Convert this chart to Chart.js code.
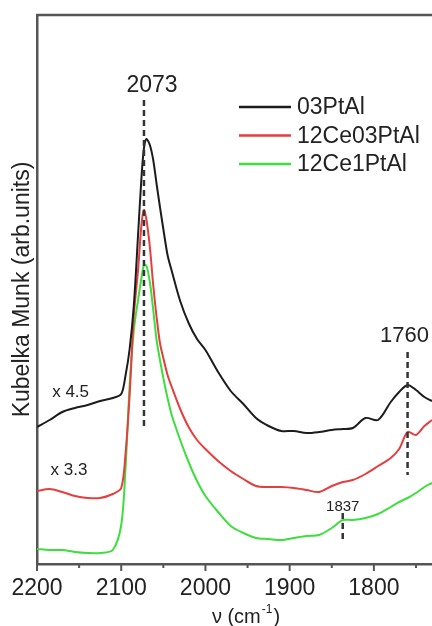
<!DOCTYPE html>
<html lang="fr">
<head>
<meta charset="utf-8">
<title>Kubelka Munk</title>
<script src="https://cdn.jsdelivr.net/npm/chart.js@4"></script>
<style>
	html, body { margin: 0; padding: 0; background: #fff; }
	#graphique-ir { display: block; }
</style>
</head>
<body>
<canvas id="graphique-ir" width="432" height="626"></canvas>
<script>
// Nombres d'onde communs aux trois spectres (cm-1)
const nombresOnde = [2200, 2185, 2170, 2155, 2140, 2125, 2110, 2100, 2095, 2090, 2085, 2080, 2076, 2073, 2070, 2066,
	2062, 2058, 2054, 2050, 2045, 2040, 2030, 2020, 2010, 2000, 1985, 1970, 1955, 1940, 1925, 1910,
	1895, 1880, 1865, 1850, 1837, 1825, 1810, 1795, 1780, 1770, 1760, 1750, 1740, 1731];

// Intensités (unités arbitraires, spectres décalés)
const spectre03PtAl = [1.37, 1.44, 1.52, 1.56, 1.59, 1.63, 1.66, 1.70, 1.88, 2.15, 2.59, 3.29, 3.86, 4.16, 4.25, 4.19,
	4.04, 3.80, 3.57, 3.35, 3.09, 2.93, 2.63, 2.41, 2.25, 2.14, 1.92, 1.73, 1.60, 1.46, 1.38, 1.33,
	1.33, 1.31, 1.32, 1.34, 1.35, 1.36, 1.46, 1.44, 1.62, 1.72, 1.79, 1.74, 1.67, 1.63];
const spectre12Ce03PtAl = [0.73, 0.75, 0.72, 0.68, 0.66, 0.66, 0.70, 0.76, 1.09, 1.69, 2.49, 2.94, 3.39, 3.54, 3.44, 3.17,
	2.79, 2.47, 2.21, 2.06, 1.89, 1.77, 1.55, 1.37, 1.24, 1.15, 1.03, 0.93, 0.85, 0.78, 0.77, 0.77,
	0.76, 0.74, 0.72, 0.78, 0.82, 0.84, 0.90, 0.98, 1.06, 1.15, 1.32, 1.29, 1.38, 1.44];
const spectre12Ce1PtAl = [0.15, 0.14, 0.14, 0.12, 0.11, 0.11, 0.14, 0.39, 0.94, 1.79, 2.34, 2.64, 2.86, 2.99, 2.98, 2.82,
	2.54, 2.24, 2.04, 1.86, 1.66, 1.49, 1.24, 1.02, 0.83, 0.68, 0.52, 0.38, 0.31, 0.26, 0.25, 0.24,
	0.26, 0.28, 0.29, 0.36, 0.44, 0.44, 0.46, 0.50, 0.57, 0.62, 0.66, 0.71, 0.77, 0.81];

const nomsEchantillons = ['03PtAl', '12Ce03PtAl', '12Ce1PtAl'];
const couleurs = ['#1c1c1c', 'rgb(228, 62, 62)', 'rgb(62, 222, 62)'];

// Bandes repérées : position, début et fin du trait pointillé (unités de l'axe y)
const bandes = [2073, 1760, 1837];
const bandesHaut = [4.64, 2.12, 0.51];
const bandesBas = [1.36, 0.89, 0.22];

// Facteurs d'échelle appliqués aux spectres
const facteurs = ['x 4.5', 'x 3.3'];

const series = [spectre03PtAl, spectre12Ce03PtAl, spectre12Ce1PtAl];

const datasets = series.map((valeurs, i) => ({
	label: nomsEchantillons[i],
	data: nombresOnde.map((nu, j) => ({ x: nu, y: valeurs[j] })),
	borderColor: couleurs[i],
	borderWidth: 2,
	pointRadius: 0,
	tension: 0.3,
	fill: false,
}));

const police = '"Liberation Sans", Arial, sans-serif';

// Décor : cadre, graduations, légende, annotations et titre de l'axe x
const decor = {
	id: 'decor',
	afterDraw(chart) {
		const { ctx, chartArea, scales } = chart;
		const x = scales.x;
		const y = scales.y;
		ctx.save();

		// bord supérieur du cadre
		ctx.strokeStyle = '#555';
		ctx.lineWidth = 2.5;
		ctx.beginPath();
		ctx.moveTo(chartArea.left - 1, chartArea.top);
		ctx.lineTo(chartArea.right, chartArea.top);
		ctx.stroke();

		// graduations vers l'extérieur
		ctx.lineWidth = 2;
		for (const t of x.ticks) {
			const px = x.getPixelForValue(t.value);
			const longueur = t.value % 100 === 0 ? 7 : 4;
			ctx.beginPath();
			ctx.moveTo(px, chartArea.bottom);
			ctx.lineTo(px, chartArea.bottom + longueur);
			ctx.stroke();
		}

		// traits pointillés des bandes
		ctx.strokeStyle = '#333';
		ctx.lineWidth = 2.5;
		ctx.setLineDash([6, 4]);
		for (let i = 0; i < bandes.length; i++) {
			const px = x.getPixelForValue(bandes[i]);
			ctx.beginPath();
			ctx.moveTo(px, y.getPixelForValue(bandesHaut[i]));
			ctx.lineTo(px, y.getPixelForValue(bandesBas[i]));
			ctx.stroke();
		}
		ctx.setLineDash([]);

		// étiquettes des bandes
		ctx.fillStyle = '#222';
		ctx.textAlign = 'center';
		ctx.textBaseline = 'alphabetic';
		const tailles = [23, 22, 15];
		const decalages = [8, -3, 0];
		const hauteurs = [8, 10, 2];
		for (let i = 0; i < bandes.length; i++) {
			ctx.font = tailles[i] + 'px ' + police;
			const px = x.getPixelForValue(bandes[i]) + decalages[i];
			const py = y.getPixelForValue(bandesHaut[i]) - hauteurs[i];
			ctx.fillText(String(bandes[i]), px, py);
		}

		// facteurs d'échelle
		ctx.font = '17px ' + police;
		ctx.textAlign = 'left';
		ctx.fillText(facteurs[0], x.getPixelForValue(2182), y.getPixelForValue(1.67));
		ctx.fillText(facteurs[1], x.getPixelForValue(2184), y.getPixelForValue(0.89));

		// légende
		ctx.font = '23px ' + police;
		ctx.textBaseline = 'middle';
		chart.data.datasets.forEach((ds, i) => {
			const ly = 107 + i * 28.5;
			ctx.strokeStyle = ds.borderColor;
			ctx.lineWidth = 2.5;
			ctx.beginPath();
			ctx.moveTo(239, ly);
			ctx.lineTo(291, ly);
			ctx.stroke();
			ctx.fillStyle = '#222';
			ctx.fillText(ds.label, 297, ly + 1);
		});

		// titre de l'axe x : ν (cm-1)
		ctx.textBaseline = 'alphabetic';
		ctx.font = '20px ' + police;
		const debut = 'ν (cm';
		const exposant = '-1';
		const fin = ')';
		ctx.font = '20px ' + police;
		const l1 = ctx.measureText(debut).width;
		const l3 = ctx.measureText(fin).width;
		ctx.font = '12px ' + police;
		const l2 = ctx.measureText(exposant).width;
		let tx = 245 - (l1 + l2 + l3) / 2;
		const ty = 623;
		ctx.font = '20px ' + police;
		ctx.fillText(debut, tx, ty);
		tx += l1;
		ctx.font = '12px ' + police;
		ctx.fillText(exposant, tx + 1, ty - 10);
		tx += l2 + 2;
		ctx.font = '20px ' + police;
		ctx.fillText(fin, tx, ty);

		ctx.restore();
	},
};

const config = {
	type: 'line',
	data: { datasets: datasets },
	options: {
		responsive: false,
		animation: false,
		layout: { padding: { top: 15, right: 0, bottom: 0, left: 0 } },
		plugins: {
			legend: { display: false },
			tooltip: { enabled: false },
		},
		scales: {
			x: {
				type: 'linear',
				reverse: true,
				min: 1731,
				max: 2200,
				afterFit: (scale) => { scale.height = 62; },
				grid: { display: true, drawOnChartArea: false, drawTicks: false },
				border: { display: true, color: '#555', width: 2.5 },
				ticks: {
					stepSize: 50,
					includeBounds: false,
					autoSkip: false,
					maxRotation: 0,
					padding: 11,
					color: '#222',
					font: { family: police, size: 23 },
					callback: (v) => (v % 100 === 0 ? String(v) : ''),
				},
			},
			y: {
				min: 0,
				max: 5.49,
				afterFit: (scale) => { scale.width = 37; },
				grid: { display: false },
				border: { display: true, color: '#555', width: 2.5 },
				ticks: { display: false },
				title: {
					display: true,
					text: 'Kubelka Munk (arb.units)',
					color: '#222',
					font: { family: police, size: 23 },
					padding: { top: 9, bottom: 0 },
				},
			},
		},
	},
	plugins: [decor],
};

new Chart(document.querySelector('#graphique-ir'), config);
</script>
</body>
</html>
